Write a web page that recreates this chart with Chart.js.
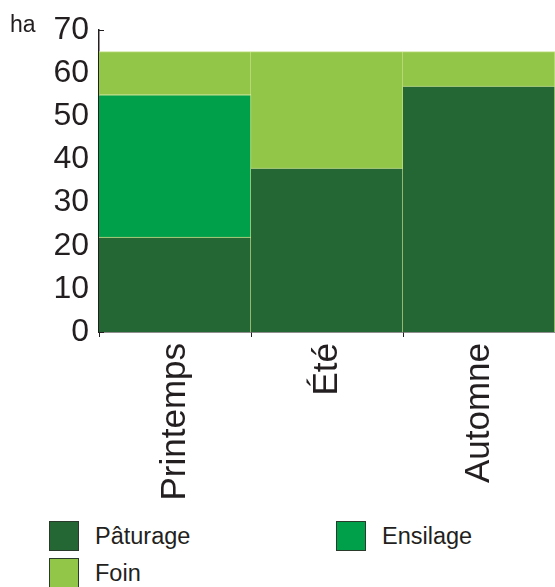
<!DOCTYPE html>
<html>
<head>
<meta charset="utf-8">
<script src="https://cdn.jsdelivr.net/npm/chart.js@4.4.1/dist/chart.umd.min.js"></script>
<style>
  body { margin: 0; background: #fff; font-family: "Liberation Sans", Arial, sans-serif; }
  #wrap { position: relative; width: 555px; height: 587px; overflow: hidden; }
  #chart-box { position: absolute; left: 0; top: 0; width: 555px; height: 510px; }
  #unit { position: absolute; left: 10px; top: 11px; font-size: 23px; color: #231f20; }
  .leg { position: absolute; font-size: 23.5px; color: #231f20; line-height: 30px; }
  .leg span.box { position: absolute; left: 0; top: 0; width: 28px; height: 28px; border: 1.5px solid #2b3b2b; }
  .leg span.txt { position: absolute; left: 46px; top: 0; white-space: nowrap; }
</style>
</head>
<body>
<div id="wrap">
  <div id="chart-box"><canvas id="crop-chart"></canvas></div>
  <div id="unit">ha</div>
  <div id="legend"></div>
</div>
<script>
// Saisons et surfaces (ha)
const seasons = ['Printemps', 'Été', 'Automne'];
const paturage = [22, 38, 57];
const ensilage = [33, null, null];
const foin = [10, 27, 8];
const yTicks = [0, 10, 20, 30, 40, 50, 60, 70];

const seriesNames = ['Pâturage', 'Ensilage', 'Foin'];
const seriesColors = ['#246634', '#009f4a', '#92c648'];
const edgeColor = '#c9e38c';
const inkColor = '#231f20';

// little inward ticks on the y axis, drawn under the bars
const innerTicks = {
	id: 'innerTicks',
	beforeDatasetsDraw(chart) {
		const y = chart.scales.y;
		const ctx = chart.ctx;
		ctx.save();
		ctx.strokeStyle = inkColor;
		ctx.lineWidth = 1;
		yTicks.forEach(v => {
			const py = Math.round(y.getPixelForValue(v)) + 0.5;
			ctx.beginPath();
			ctx.moveTo(y.right, py);
			ctx.lineTo(y.right + 5, py);
			ctx.stroke();
		});
		ctx.restore();
	}
};

const series = [paturage, ensilage, foin];

new Chart(document.getElementById('crop-chart'), {
	type: 'bar',
	data: {
		labels: seasons,
		datasets: series.map((d, i) => ({
			label: seriesNames[i],
			data: d,
			backgroundColor: seriesColors[i],
			borderColor: edgeColor,
			borderWidth: { top: 1, right: 1, bottom: 0, left: 0 },
			borderSkipped: false,
			barPercentage: 1,
			categoryPercentage: 1
		}))
	},
	options: {
		responsive: true,
		maintainAspectRatio: false,
		animation: false,
		layout: { padding: { top: 30, right: 0, left: 0, bottom: 0 } },
		plugins: {
			legend: { display: false },
			tooltip: { enabled: false }
		},
		scales: {
			x: {
				stacked: true,
				afterFit: s => { s.height = 178; },
				grid: {
					display: true,
					offset: true,
					drawOnChartArea: false,
					drawTicks: true,
					tickLength: 5,
					color: inkColor
				},
				border: { display: true, color: inkColor, width: 1.5 },
				ticks: {
					minRotation: 90,
					maxRotation: 90,
					padding: 6,
					color: inkColor,
					font: { family: '"Liberation Sans", Arial, sans-serif', size: 35 }
				}
			},
			y: {
				stacked: true,
				min: 0,
				max: 70,
				afterFit: s => { s.width = 99; },
				afterBuildTicks: s => { s.ticks = yTicks.map(v => ({ value: v })); },
				grid: { display: false, drawTicks: false },
				border: { display: true, color: inkColor, width: 1.5 },
				ticks: {
					padding: 10,
					color: inkColor,
					font: { family: '"Liberation Sans", Arial, sans-serif', size: 32 }
				}
			}
		}
	},
	plugins: [innerTicks]
});

// legend built from the series names and colours
const legendPos = [[49, 521], [336, 521], [49, 558]];
const legend = document.getElementById('legend');
seriesNames.forEach((name, i) => {
	const el = document.createElement('div');
	el.className = 'leg';
	el.style.left = legendPos[i][0] + 'px';
	el.style.top = legendPos[i][1] + 'px';
	el.innerHTML = '<span class="box" style="background:' + seriesColors[i] + '"></span><span class="txt">' + name + '</span>';
	legend.appendChild(el);
});
</script>
</body>
</html>
